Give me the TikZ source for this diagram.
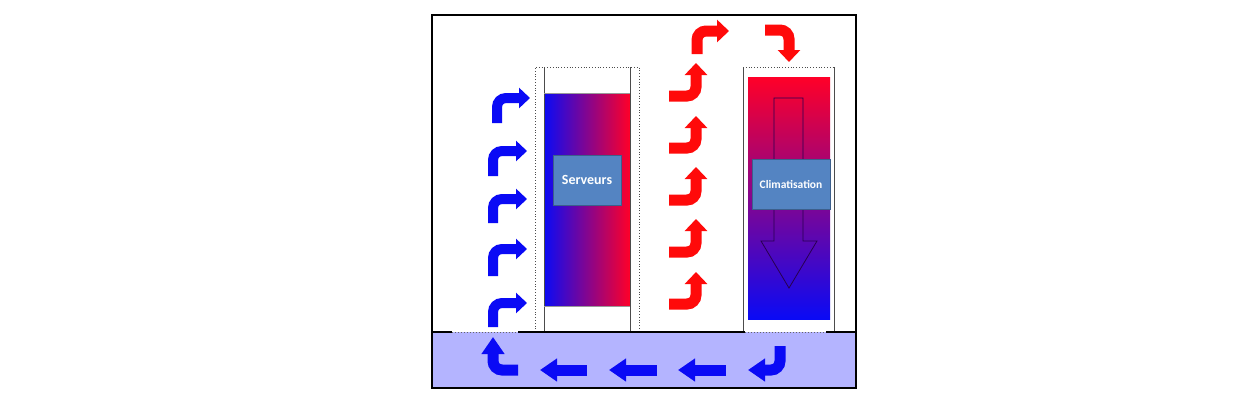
\documentclass[tikz,border=0pt]{standalone}
\usepackage{fontspec}
\newfontfamily\carlito{Carlito}
\usetikzlibrary{arrows.meta}
\definecolor{flowblue}{RGB}{10,10,245}
\definecolor{flowred}{RGB}{255,10,10}
\definecolor{floorfill}{RGB}{180,180,255}
\definecolor{boxfill}{RGB}{84,132,194}
\definecolor{boxline}{RGB}{60,95,140}
\definecolor{midpurple}{RGB}{165,0,215}
\definecolor{acmid}{RGB}{200,0,190}
\tikzset{
  bluearrow/.style={draw=flowblue, line width=10pt, rounded corners=9pt,
    -{Triangle[length=11pt,width=20pt]}},
  redarrow/.style={draw=flowred, line width=11pt, rounded corners=9pt,
    -{Triangle[length=12pt,width=22pt]}},
  floorarrow/.style={draw=flowblue, line width=11pt, rounded corners=9pt,
    -{Triangle[length=17pt,width=22pt]}},
  labelbox/.style={draw=boxline, line width=1pt, fill=boxfill, text=white,
    font=\carlito\bfseries, inner sep=0pt},
  rail/.style={draw=black!70, line width=0.8pt},
  dotrail/.style={draw=black!70, line width=0.8pt, dotted},
}
\begin{document}
\begin{tikzpicture}[x=1pt,y=-1pt]
\useasboundingbox (0,0) rectangle (1250,400);
\fill[white] (0,0) rectangle (1250,400);
% floor
\fill[floorfill] (432,332) rectangle (856,388);
% server cabinet
\shade[left color=flowblue, middle color=midpurple, right color={rgb,255:red,255;green,0;blue,40}] (544,93) rectangle (630,306);
\draw[dotrail] (535,332) -- (535,67) -- (639,67) -- (639,332);
\draw[rail] (544,67) -- (544,332);
\draw[rail] (630,67) -- (630,332);
\draw[rail, draw=black!40] (544,93) -- (630,93);
\draw[rail, draw=black!40] (544,306) -- (630,306);
% AC cabinet
\shade[top color={rgb,255:red,255;green,0;blue,40}, middle color=acmid, bottom color=flowblue] (748,77) rectangle (830,319);
\draw[rail] (743,332) -- (743,67);
\draw[rail] (834,67) -- (834,332);
\draw[dotrail] (743,67) -- (834,67);
\draw[draw={rgb,255:red,40;green,0;blue,80}, line width=0.8pt]
  (774,98) -- (803,98) -- (803,241) -- (817,241) -- (789,288) -- (761,241) -- (774,241) -- cycle;
% labels
\node[labelbox, minimum width=68pt, minimum height=50pt, font=\carlito\bfseries\fontsize{14}{16}\selectfont] (srv) at (587,180) {Serveurs};
\node[labelbox, minimum width=78pt, minimum height=50pt, font=\carlito\bfseries\fontsize{11.5}{14}\selectfont] (clim) at (791,184) {Climatisation};
% floor line
\draw[black, line width=1.5pt] (432,332) -- (452,332);
\draw[black!60, line width=1pt, dotted] (452,332) -- (518,332);
\draw[black, line width=1.5pt] (518,332) -- (745,332);
\draw[black!60, line width=1pt, dotted] (745,332) -- (826,332);
\draw[black, line width=1.5pt] (826,332) -- (856,332);
% frame
\draw[black, line width=2pt] (432,15) rectangle (856,388);
% blue cold arrows
\draw[bluearrow] (497,123) |- (530,98);
\draw[bluearrow] (493,176) |- (527,151);
\draw[bluearrow] (493,223) |- (527,199);
\draw[bluearrow] (493,276) |- (527,249);
\draw[bluearrow] (493,327) |- (527,303);
% red hot arrows
\draw[redarrow] (669,304) -| (696,272);
\draw[redarrow] (669,252) -| (696,219);
\draw[redarrow] (669,200) -| (696,167);
\draw[redarrow] (669,148) -| (696,116);
\draw[redarrow] (669,96) -| (696,63);
\draw[redarrow] (697,54) |- (729,31);
\draw[redarrow] (765,30) -| (789,62);
% floor arrows
\draw[floorarrow] (780,346) |- (748,370);
\draw[floorarrow] (726,370) -- (678,370);
\draw[floorarrow] (657,370) -- (609,370);
\draw[floorarrow] (587,370) -- (540,370);
\draw[floorarrow] (518,370) -| (493,337);
\end{tikzpicture}
\end{document}
